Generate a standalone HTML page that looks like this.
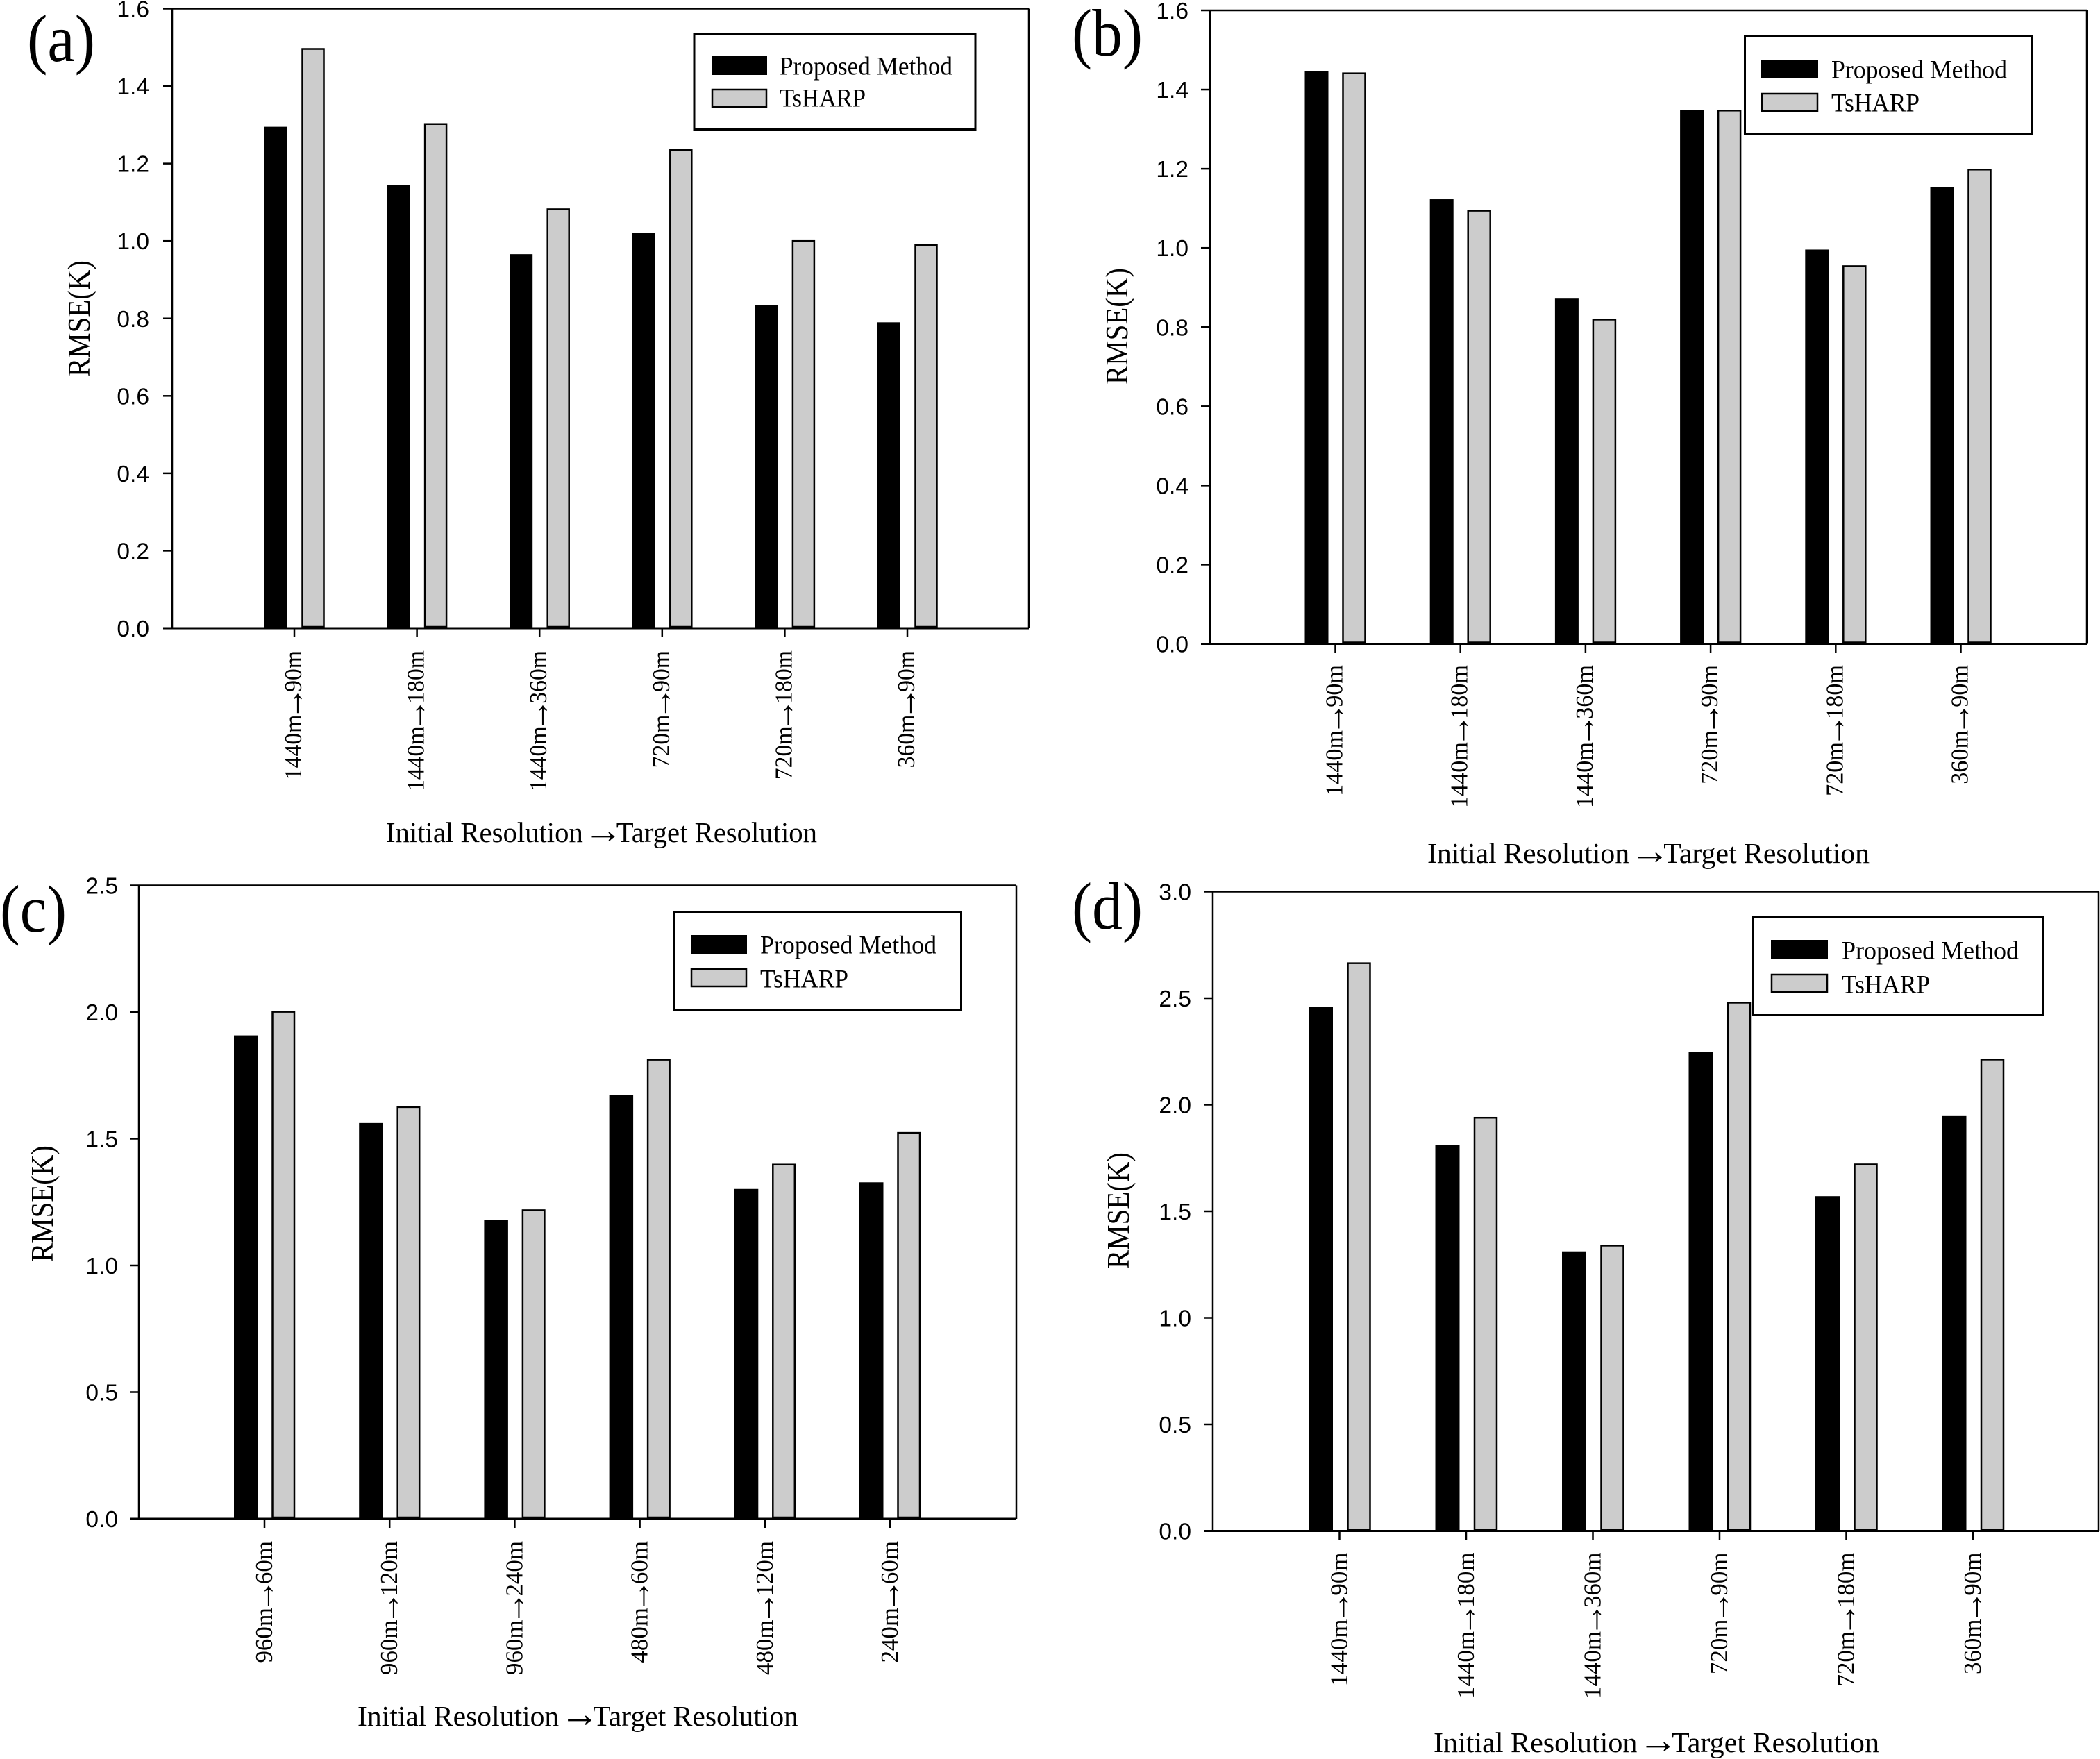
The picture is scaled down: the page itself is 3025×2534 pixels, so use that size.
<!DOCTYPE html>
<html lang="en">
<head>
<meta charset="utf-8">
<title>RMSE comparison of Proposed Method and TsHARP</title>
<style>
html,body{margin:0;padding:0;background:#fff;}
svg{display:block;}
.serif{font-family:"Liberation Serif","DejaVu Serif",serif;fill:#000;}
.sans{font-family:"Liberation Sans","DejaVu Sans",sans-serif;fill:#000;}
.letter{font-size:96px;}
.ytitle{font-size:46px;}
.xtitle{font-size:41px;}
.arr{font-size:56px;}
.legtext{font-size:37px;}
.tick{font-size:33.5px;}
.xtick{font-size:35px;}
.xarr{font-size:49px;}
</style>
</head>
<body>
<svg id="figure" xmlns="http://www.w3.org/2000/svg" width="3025" height="2534" viewBox="0 0 3025 2534">
<rect x="0" y="0" width="3025" height="2534" fill="#fff"/>

<g id="panel-a">
  <text class="serif letter" x="39" y="88" textLength="98" lengthAdjust="spacingAndGlyphs">(a)</text>
  <text class="serif ytitle" transform="translate(129,459) rotate(-90)" text-anchor="middle" textLength="168" lengthAdjust="spacingAndGlyphs">RMSE(K)</text>
  <text class="serif xtitle" x="556" y="1213" textLength="621" lengthAdjust="spacingAndGlyphs">Initial Resolution <tspan class="arr" dx="-9" dy="1.5">→</tspan><tspan dx="-9" dy="-1.5">Target Resolution</tspan></text>
  <g>
    <rect x="1000" y="48.5" width="405" height="138" fill="#fff" stroke="#000" stroke-width="3"/>
    <rect x="1025" y="81" width="80" height="27" fill="#000"/>
    <text class="serif legtext" x="1123" y="107.5" textLength="249" lengthAdjust="spacingAndGlyphs">Proposed Method</text>
    <rect x="1026" y="129" width="78" height="25" fill="#ccc" stroke="#000" stroke-width="2.5"/>
    <text class="serif legtext" x="1123" y="153.5" textLength="124" lengthAdjust="spacingAndGlyphs">TsHARP</text>
  </g>
</g>

<g id="panel-b">
  <text class="serif letter" x="1544" y="80" textLength="102" lengthAdjust="spacingAndGlyphs">(b)</text>
  <text class="serif ytitle" transform="translate(1624,470) rotate(-90)" text-anchor="middle" textLength="168" lengthAdjust="spacingAndGlyphs">RMSE(K)</text>
  <text class="serif xtitle" x="2056" y="1243" textLength="637" lengthAdjust="spacingAndGlyphs">Initial Resolution <tspan class="arr" dx="-9" dy="1.5">→</tspan><tspan dx="-9" dy="-1.5">Target Resolution</tspan></text>
  <g>
    <rect x="2513.5" y="52.5" width="413" height="141" fill="#fff" stroke="#000" stroke-width="3"/>
    <rect x="2537" y="86" width="82" height="27" fill="#000"/>
    <text class="serif legtext" x="2638" y="112.5" textLength="253" lengthAdjust="spacingAndGlyphs">Proposed Method</text>
    <rect x="2538" y="135" width="80" height="25" fill="#ccc" stroke="#000" stroke-width="2.5"/>
    <text class="serif legtext" x="2638" y="160.5" textLength="127" lengthAdjust="spacingAndGlyphs">TsHARP</text>
  </g>
</g>

<g id="panel-c">
  <text class="serif letter" x="0" y="1342" textLength="96" lengthAdjust="spacingAndGlyphs">(c)</text>
  <text class="serif ytitle" transform="translate(76,1734) rotate(-90)" text-anchor="middle" textLength="168" lengthAdjust="spacingAndGlyphs">RMSE(K)</text>
  <text class="serif xtitle" x="515" y="2486" textLength="635" lengthAdjust="spacingAndGlyphs">Initial Resolution <tspan class="arr" dx="-9" dy="1.5">→</tspan><tspan dx="-9" dy="-1.5">Target Resolution</tspan></text>
  <g>
    <rect x="970.5" y="1313.5" width="414" height="141" fill="#fff" stroke="#000" stroke-width="3"/>
    <rect x="995" y="1347" width="81" height="27" fill="#000"/>
    <text class="serif legtext" x="1095" y="1373.5" textLength="254" lengthAdjust="spacingAndGlyphs">Proposed Method</text>
    <rect x="996" y="1396" width="79" height="25" fill="#ccc" stroke="#000" stroke-width="2.5"/>
    <text class="serif legtext" x="1095" y="1422.5" textLength="127" lengthAdjust="spacingAndGlyphs">TsHARP</text>
  </g>
</g>

<g id="panel-d">
  <text class="serif letter" x="1544" y="1338" textLength="102" lengthAdjust="spacingAndGlyphs">(d)</text>
  <text class="serif ytitle" transform="translate(1626,1744) rotate(-90)" text-anchor="middle" textLength="168" lengthAdjust="spacingAndGlyphs">RMSE(K)</text>
  <text class="serif xtitle" x="2065" y="2524" textLength="642" lengthAdjust="spacingAndGlyphs">Initial Resolution <tspan class="arr" dx="-9" dy="1.5">→</tspan><tspan dx="-9" dy="-1.5">Target Resolution</tspan></text>
  <g>
    <rect x="2525.5" y="1320.5" width="418" height="142" fill="#fff" stroke="#000" stroke-width="3"/>
    <rect x="2551" y="1354" width="82" height="28" fill="#000"/>
    <text class="serif legtext" x="2653" y="1381.5" textLength="255" lengthAdjust="spacingAndGlyphs">Proposed Method</text>
    <rect x="2552" y="1404" width="80" height="25" fill="#ccc" stroke="#000" stroke-width="2.5"/>
    <text class="serif legtext" x="2653" y="1430.5" textLength="127" lengthAdjust="spacingAndGlyphs">TsHARP</text>
  </g>
</g>
</svg>

<script>
// ---- chart data ----
const categoriesA = ['1440m→90m','1440m→180m','1440m→360m','720m→90m','720m→180m','360m→90m'];
const categoriesB = ['1440m→90m','1440m→180m','1440m→360m','720m→90m','720m→180m','360m→90m'];
const categoriesC = ['960m→60m','960m→120m','960m→240m','480m→60m','480m→120m','240m→60m'];
const categoriesD = ['1440m→90m','1440m→180m','1440m→360m','720m→90m','720m→180m','360m→90m'];

const proposedA = [1.295,1.145,0.966,1.021,0.835,0.790];
const tsharpA   = [1.496,1.302,1.082,1.235,1.000,0.990];
const proposedB = [1.447,1.123,0.872,1.348,0.996,1.154];
const tsharpB   = [1.441,1.094,0.819,1.347,0.954,1.198];
const proposedC = [1.908,1.562,1.180,1.673,1.302,1.328];
const tsharpC   = [2.001,1.625,1.218,1.812,1.398,1.523];
const proposedD = [2.458,1.812,1.312,2.249,1.571,1.950];
const tsharpD   = [2.664,1.939,1.339,2.479,1.720,2.212];

const yTicksA = ['0.0','0.2','0.4','0.6','0.8','1.0','1.2','1.4','1.6'];
const yTicksB = ['0.0','0.2','0.4','0.6','0.8','1.0','1.2','1.4','1.6'];
const yTicksC = ['0.0','0.5','1.0','1.5','2.0','2.5'];
const yTicksD = ['0.0','0.5','1.0','1.5','2.0','2.5','3.0'];

// ---- layout of each panel (pixels) ----
const layoutA = {id:'a',left:248,right:1482,top:12.5,bottom:905,x0:424,step:176.6,blackOff:-43,blackW:33,greyOff:11.5,greyW:31,labelTop:937,labelBase:10,labelScale:0.963,tickRight:215};
const layoutB = {id:'b',left:1743,right:3006,top:15,bottom:927.5,x0:1923.5,step:180.2,blackOff:-44,blackW:34,greyOff:11,greyW:32,labelTop:958,labelBase:10,labelScale:0.977,tickRight:1712};
const layoutC = {id:'c',left:200,right:1464,top:1275.5,bottom:2188,x0:381,step:180.2,blackOff:-44,blackW:34.5,greyOff:11.5,greyW:31.5,labelTop:2220,labelBase:11,labelScale:0.998,tickRight:170};
const layoutD = {id:'d',left:1747,right:3023,top:1284.5,bottom:2205.5,x0:1929.5,step:182.5,blackOff:-44.5,blackW:35,greyOff:12,greyW:32,labelTop:2236.5,labelBase:11,labelScale:0.998,tickRight:1716};

const NS = 'http://www.w3.org/2000/svg';

function make(tag, parent, props) {
  const el = document.createElementNS(NS, tag);
  for (const k in props) el.setAttribute(k, props[k]);
  parent.appendChild(el);
  return el;
}

function fillTickLabel(lab, cat) {
  const parts = cat.split('→');
  lab.appendChild(document.createTextNode(parts[0]));
  const arrow = make('tspan', lab, {class: 'xarr', dx: -7.5, dy: 3});
  arrow.textContent = '→';
  const rest = make('tspan', lab, {dx: -7.5, dy: -3});
  rest.textContent = parts[1];
}

function drawPanel(lay, categories, proposed, tsharp, yTicks) {
  const root = document.getElementById('panel-' + lay.id);
  const first = root.firstChild;
  const yMax = parseFloat(yTicks[yTicks.length - 1]);
  const yScale = v => lay.bottom - (v / yMax) * (lay.bottom - lay.top);
  const xScale = i => lay.x0 + i * lay.step;

  const layer = document.createElementNS(NS, 'g');
  
  
  root.insertBefore(layer, first);

  // bars
  categories.forEach((cat, i) => {
    const black = make('rect', layer, {x: xScale(i) + lay.blackOff, y: yScale(proposed[i]), width: lay.blackW, height: lay.bottom - yScale(proposed[i]), fill: '#000'});
    
    
    const grey = make('rect', layer, {x: xScale(i) + lay.greyOff, y: yScale(tsharp[i]), width: lay.greyW, height: lay.bottom - yScale(tsharp[i]) - 2, fill: '#ccc', stroke: '#000', 'stroke-width': 2.5});
    
    

    const tick = make('line', layer, {x1: xScale(i), x2: xScale(i), y1: lay.bottom, y2: lay.bottom + 13, stroke: '#000', 'stroke-width': 2.5});
    
    

    const lab = make('text', layer, {class: 'serif xtick', 'text-anchor': 'end', transform: 'translate(' + (xScale(i) + lay.labelBase) + ',' + lay.labelTop + ') rotate(-90) scale(' + lay.labelScale + ',1)'});
    
    
    fillTickLabel(lab, cat);
  });

  // y ticks
  yTicks.forEach((t, i) => {
    const y = yScale(parseFloat(t));
    const tick = make('line', layer, {x1: lay.left - 13, x2: lay.left, y1: y, y2: y, stroke: '#000', 'stroke-width': 2.5});
    
    
    const lab = make('text', layer, {class: 'sans tick', x: lay.tickRight, y: y + 12, 'text-anchor': 'end'});
    
    
    lab.textContent = t;
  });

  // frame
  const top = make('line', layer, {x1: lay.left, x2: lay.right, y1: lay.top, y2: lay.top, stroke: '#000', 'stroke-width': 2.5});
  
  
  const right = make('line', layer, {x1: lay.right, x2: lay.right, y1: lay.top, y2: lay.bottom, stroke: '#000', 'stroke-width': 2.5});
  
  
  const yAxis = make('line', layer, {x1: lay.left, x2: lay.left, y1: lay.top - 1, y2: lay.bottom, stroke: '#000', 'stroke-width': 2.5});
  
  
  const xAxis = make('line', layer, {x1: lay.left - 13, x2: lay.right, y1: lay.bottom, y2: lay.bottom, stroke: '#000', 'stroke-width': 3});
  
  
}

drawPanel(layoutA, categoriesA, proposedA, tsharpA, yTicksA);
drawPanel(layoutB, categoriesB, proposedB, tsharpB, yTicksB);
drawPanel(layoutC, categoriesC, proposedC, tsharpC, yTicksC);
drawPanel(layoutD, categoriesD, proposedD, tsharpD, yTicksD);
</script>
</body>
</html>
